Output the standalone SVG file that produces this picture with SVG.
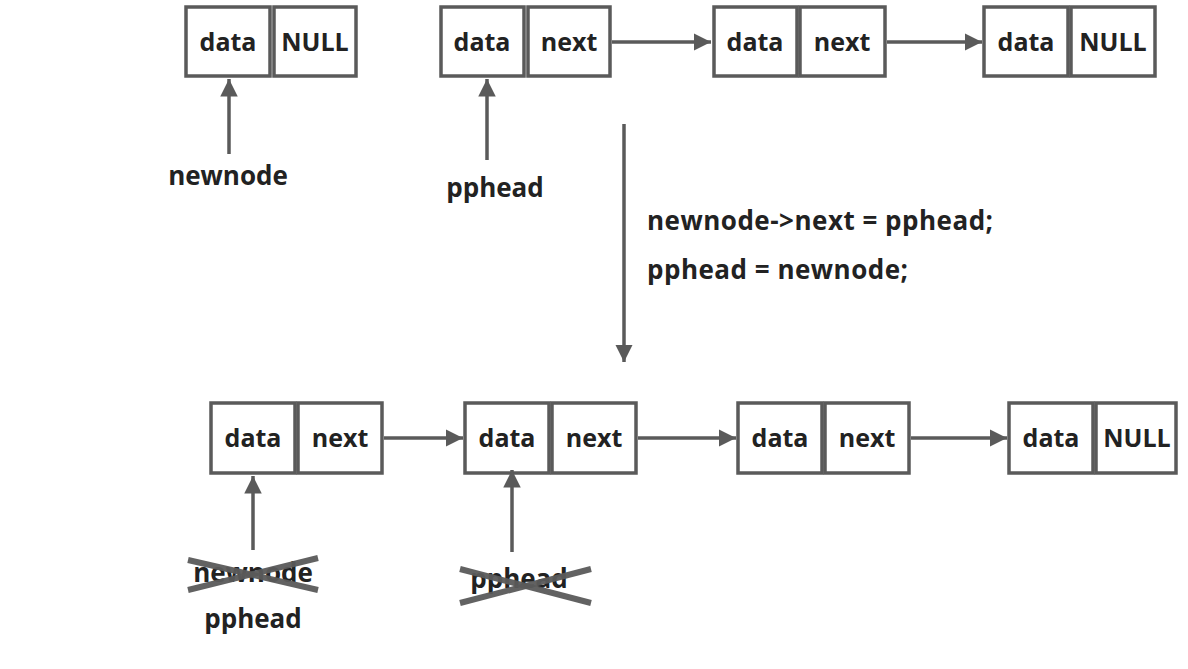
<svg xmlns="http://www.w3.org/2000/svg" width="1188" height="669" viewBox="0 0 1188 669">
<defs>
<style>
.cell{fill:#fff;stroke:#5a5a5a;stroke-width:3.5}
.t{font-family:"Open Sans","Noto Sans","Liberation Sans",sans-serif;font-weight:bold;font-size:25px;fill:#222;text-anchor:middle}
.p{font-size:26px}
.lbl{font-family:"Open Sans","Noto Sans","Liberation Sans",sans-serif;font-weight:bold;font-size:26px;letter-spacing:0.5px;fill:#222}
.c{stroke:#5a5a5a;stroke-width:3.5;fill:none}
.x{stroke:#5a5a5a;stroke-width:6;opacity:0.95}
</style>
<marker id="ah" viewBox="0 0 10 10" refX="10" refY="5" markerWidth="5" markerHeight="5" markerUnits="strokeWidth" orient="auto">
<path d="M0,0 L10,5 L0,10 Z" fill="#5a5a5a"/>
</marker>
</defs>
<rect width="1188" height="669" fill="#fff"/>

<g id="top-newnode-node">
<rect class="cell" x="186" y="7" width="84" height="69"/>
<rect class="cell" x="274" y="7" width="82" height="69"/>
<text class="t" x="228" y="51">data</text>
<text class="t" x="315" y="51">NULL</text>
</g>
<g id="top-node1">
<rect class="cell" x="441" y="7" width="83" height="69"/>
<rect class="cell" x="528" y="7" width="82" height="69"/>
<text class="t" x="482" y="51">data</text>
<text class="t" x="569" y="51">next</text>
</g>
<g id="top-node2">
<rect class="cell" x="714" y="7" width="83" height="69"/>
<rect class="cell" x="800" y="7" width="85" height="69"/>
<text class="t" x="755" y="51">data</text>
<text class="t" x="842" y="51">next</text>
</g>
<g id="top-node3">
<rect class="cell" x="984" y="7" width="84" height="69"/>
<rect class="cell" x="1071" y="7" width="84" height="69"/>
<text class="t" x="1026" y="51">data</text>
<text class="t" x="1113" y="51">NULL</text>
</g>

<g id="top-labels">
<text class="t p" x="228" y="185">newnode</text>
<text class="t p" x="495" y="197">pphead</text>
</g>

<g id="code-text">
<text class="lbl" x="647" y="230">newnode-&gt;next = pphead;</text>
<text class="lbl" x="647" y="279">pphead = newnode;</text>
</g>

<g id="bottom-node0">
<rect class="cell" x="211" y="403" width="84" height="70"/>
<rect class="cell" x="298" y="403" width="84" height="70"/>
<text class="t" x="253" y="447">data</text>
<text class="t" x="340" y="447">next</text>
</g>
<g id="bottom-node1">
<rect class="cell" x="465" y="403" width="84" height="70"/>
<rect class="cell" x="552" y="403" width="84" height="70"/>
<text class="t" x="507" y="447">data</text>
<text class="t" x="594" y="447">next</text>
</g>
<g id="bottom-node2">
<rect class="cell" x="738" y="403" width="84" height="70"/>
<rect class="cell" x="825" y="403" width="84" height="70"/>
<text class="t" x="780" y="447">data</text>
<text class="t" x="867" y="447">next</text>
</g>
<g id="bottom-node3">
<rect class="cell" x="1009" y="403" width="84" height="70"/>
<rect class="cell" x="1096" y="403" width="80" height="70"/>
<text class="t" x="1051" y="447">data</text>
<text class="t" x="1137" y="447">NULL</text>
</g>

<g id="bottom-labels">
<text class="t p" x="253" y="582">newnode</text>
<text class="t p" x="253" y="628">pphead</text>
<text class="t p" x="519" y="588">pphead</text>
<line class="x" x1="188" y1="560" x2="318" y2="590"/>
<line class="x" x1="188" y1="590" x2="318" y2="558"/>
<line class="x" x1="460" y1="569" x2="591" y2="603"/>
<line class="x" x1="460" y1="603" x2="591" y2="569"/>
</g>

<g id="connectors">
<line class="c" x1="612" y1="42" x2="711" y2="42" marker-end="url(#ah)"/>
<line class="c" x1="887" y1="42" x2="982" y2="42" marker-end="url(#ah)"/>
<line class="c" x1="229" y1="154" x2="229" y2="79" marker-end="url(#ah)"/>
<line class="c" x1="487" y1="160" x2="487" y2="79" marker-end="url(#ah)"/>
<line class="c" x1="624" y1="124" x2="624" y2="362" marker-end="url(#ah)"/>
<line class="c" x1="384" y1="438" x2="463" y2="438" marker-end="url(#ah)"/>
<line class="c" x1="638" y1="438" x2="736" y2="438" marker-end="url(#ah)"/>
<line class="c" x1="911" y1="438" x2="1007" y2="438" marker-end="url(#ah)"/>
<line class="c" x1="253" y1="550" x2="253" y2="476" marker-end="url(#ah)"/>
<line class="c" x1="512" y1="552" x2="512" y2="470" marker-end="url(#ah)"/>
</g>
</svg>
